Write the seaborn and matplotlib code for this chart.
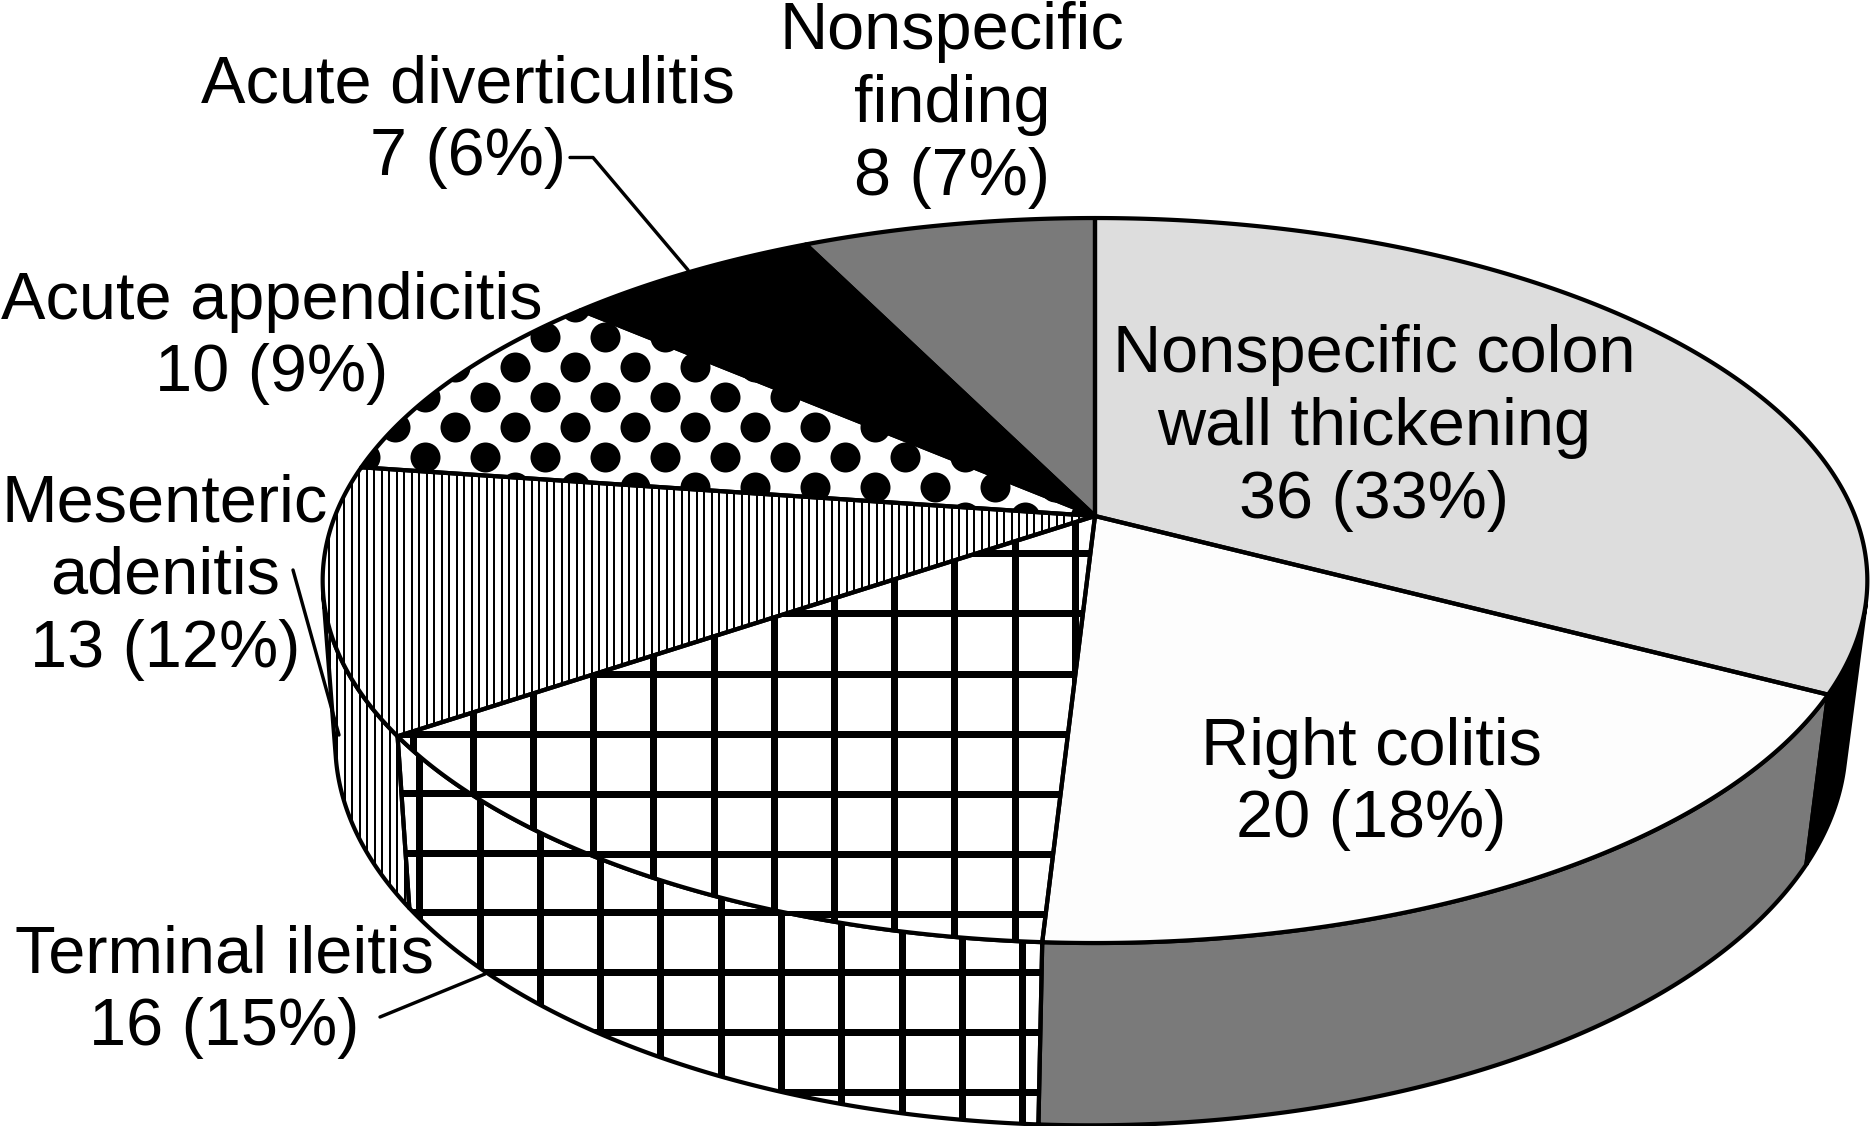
import numpy as np
import pandas as pd
import seaborn as sns
import matplotlib
matplotlib.use("Agg")
import matplotlib.pyplot as plt
from matplotlib.patches import Polygon

sns.set_theme(style="white")
plt.rcParams['font.family'] = ['Liberation Sans', 'DejaVu Sans']

# values, clockwise from 12 o'clock
names = ["Nonspecific colon\nwall thickening", "Right colitis", "Terminal ileitis",
         "Mesenteric\nadenitis", "Acute appendicitis", "Acute diverticulitis",
         "Nonspecific\nfinding"]
counts = [36, 20, 16, 13, 10, 7, 8]
percents = [33, 18, 15, 12, 9, 6, 7]

top_fill = ["#dddddd", "#fdfdfd", "white", "white", "white", "black", "#7a7a7a"]
side_fill = ["black", "#7a7a7a", "white", "white", "white", "black", "#7a7a7a"]
text_pos = [(1374, 428), (1371, 784), (224, 992), (165, 577), (272, 338), (468, 122), (952, 105)]

df = pd.DataFrame({"name": names, "count": counts, "pct": percents})
df["end"] = df["count"].cumsum() / df["count"].sum() * 2 * np.pi
df["start"] = df["end"].shift(fill_value=0.0)

W, H = 1871, 1126
PX = 72 / 100  # points per pixel at dpi 100

# perspective of the disc, in pixels of the picture
CX, CY = 1095, 516
A, D, K = 760, 351, 0.178
VX, VY = -200, -7484
DEPTH = 0.0218


def project(theta, depth=0.0):
    x, y = np.sin(theta), np.cos(theta)
    w = 1 + K * y + depth
    return np.column_stack([CX + (A * x + depth * VX) / w,
                            CY - (D * y + depth * VY) / w])


def visible(theta):
    # the wall can be seen where it turns towards the viewer
    top = project(theta)
    low = project(theta, DEPTH)
    tan = project(theta + 1e-4) - top
    wall = low - top
    return tan[:, 0] * wall[:, 1] - tan[:, 1] * wall[:, 0] < 0


def grid(ax, xs, ys, clip, z):
    v = ax.vlines(xs, 0, H, color="black", lw=7 * PX, zorder=z)
    h = ax.hlines(ys, 0, W, color="black", lw=7 * PX, zorder=z)
    v.set_clip_path(clip)
    h.set_clip_path(clip)


def stripes(ax, xs, clip, z):
    v = ax.vlines(xs, 0, H, color="black", lw=2 * PX, zorder=z)
    v.set_clip_path(clip)


fig = plt.figure(figsize=(W / 100, H / 100), dpi=100)
ax = fig.add_axes([0, 0, 1, 1])
ax.set_xlim(0, W)
ax.set_ylim(H, 0)
ax.axis("off")

# walls
for i, row in df.iterrows():
    t = np.linspace(row["start"], row["end"], 400)
    t = t[visible(t)]
    if len(t) < 2:
        continue
    pts = np.vstack([project(t), project(t, DEPTH)[::-1]])
    p = Polygon(pts, closed=True, fc=side_fill[i], ec="none", zorder=2)
    ax.add_patch(p)
    if i == 2:
        grid(ax, np.arange(419.3, 1060, 60.3), np.arange(733, 1100, 59.8), p, 3)
    if i == 3:
        stripes(ax, np.arange(330, 420, 7.5), p, 3)
    ax.add_patch(Polygon(pts, closed=True, fc="none", ec="black", lw=4.2 * PX,
                         joinstyle="round", zorder=4))

# top faces
for i, row in df.iterrows():
    t = np.linspace(row["start"], row["end"], 400)
    pts = np.vstack([[CX, CY], project(t)])
    p = Polygon(pts, closed=True, fc=top_fill[i], ec="none", zorder=5)
    ax.add_patch(p)
    if i == 2:
        grid(ax, np.arange(412.7, 1100, 60.2), np.arange(553.3, 950, 60.1), p, 6)
    if i == 3:
        stripes(ax, np.arange(321.7, 1100, 7.5), p, 6)
    if i == 4:
        rows = np.arange(276.7, 530, 30)
        for n, y in enumerate(rows):
            xs = np.arange(305 if n % 2 == 0 else 335, 1100, 60)
            s = ax.scatter(xs, np.full(len(xs), y), s=(30 * PX) ** 2, c="black",
                           linewidths=0, zorder=6)
            s.set_clip_path(p)
    ax.add_patch(Polygon(pts, closed=True, fc="none", ec="black", lw=4.2 * PX,
                         joinstyle="round", zorder=7))

# leader lines
ax.plot([570, 593, 688], [157.5, 157.5, 270], color="black", lw=3.4 * PX, zorder=8)
ax.plot([380, 485], [1017, 974], color="black", lw=3.4 * PX, zorder=8)
ax.plot([293, 339], [570, 735], color="black", lw=3.4 * PX, zorder=8)

for i, row in df.iterrows():
    ax.text(text_pos[i][0], text_pos[i][1], f"{row['name']}\n{row['count']} ({row['pct']}%)",
            ha="center", va="center", fontsize=48, color="black", linespacing=1.22, zorder=9)

fig.savefig("out.png", dpi=100, facecolor="white")
